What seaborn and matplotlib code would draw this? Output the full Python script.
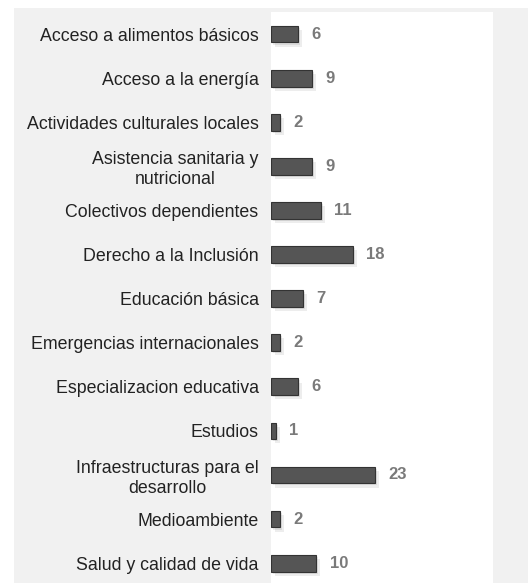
import matplotlib
matplotlib.use("Agg")
import matplotlib.pyplot as plt
import matplotlib.patheffects as pe
from matplotlib.patches import Rectangle
import seaborn as sns
import pandas as pd

categories = [
    "Acceso a alimentos básicos",
    "Acceso a la energía",
    "Actividades culturales locales",
    "Asistencia sanitaria y\nnutricional",
    "Colectivos dependientes",
    "Derecho a la Inclusión",
    "Educación básica",
    "Emergencias internacionales",
    "Especializacion educativa",
    "Estudios",
    "Infraestructuras para el\ndesarrollo",
    "Medioambiente",
    "Salud y calidad de vida",
]
values = [6, 9, 2, 9, 11, 18, 7, 2, 6, 1, 23, 2, 10]

df = pd.DataFrame({"categoria": categories, "valor": values})

sns.set_theme(style="white")
plt.rcParams["font.family"] = ["Liberation Sans", "DejaVu Sans"]

W, H = 528, 583
fig = plt.figure(figsize=(W / 100, H / 100), dpi=100)
fig.patch.set_facecolor("white")
fig.patches.append(Rectangle((14 / W, 0), 1 - 14 / W, 1 - 8 / H,
                             transform=fig.transFigure, facecolor="#f1f1f1",
                             edgecolor="none", zorder=-10))

ax = fig.add_axes([271 / W, 0, (493 - 271) / W, (H - 12) / H])
ax.set_facecolor("white")

sns.barplot(data=df, y="categoria", x="valor", orient="h", ax=ax,
            color="#555555", width=0.38, edgecolor="#333333", linewidth=0.8,
            saturation=1)

for bar in ax.patches:
    bar.set_path_effects([
        pe.SimplePatchShadow(offset=(3, -3), shadow_rgbFace="#000000", alpha=0.07),
        pe.SimplePatchShadow(offset=(1.5, -1.5), shadow_rgbFace="#000000", alpha=0.08),
        pe.Normal(),
    ])

for bar, v in zip(ax.patches, values):
    ax.annotate(str(v), xy=(bar.get_width(), bar.get_y() + bar.get_height() / 2),
                xytext=(9.5, 0), textcoords="offset points", va="center", ha="left",
                fontsize=12, fontweight="bold", color="#7a7a7a")

ax.set_xlim(0, 49)
ax.set_ylim(12.45, -0.5)
ax.set_xlabel("")
ax.set_ylabel("")
ax.set_xticks([])
ax.tick_params(axis="y", length=0, pad=9, labelsize=12.8, labelcolor="#222222")
for lbl in ax.get_yticklabels():
    lbl.set_multialignment("center")
for s in ax.spines.values():
    s.set_visible(False)

fig.savefig("out.png", dpi=100, facecolor=fig.get_facecolor())
